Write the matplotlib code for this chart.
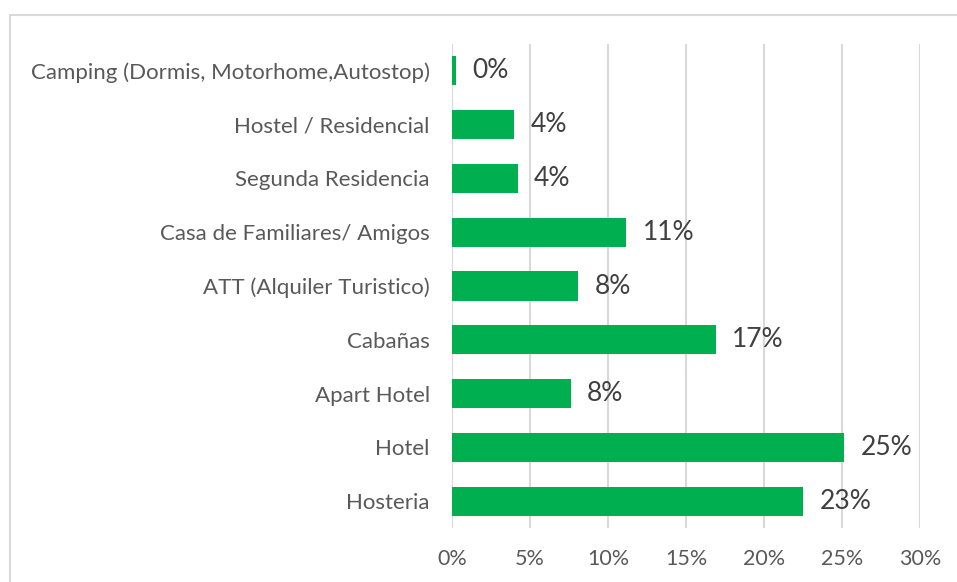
import numpy as np
import matplotlib.pyplot as plt
from matplotlib.patches import Rectangle

plt.rcParams['font.family'] = ['Lato', 'DejaVu Sans']

categorias = ['Hosteria', 'Hotel', 'Apart Hotel', 'Cabañas', 'ATT (Alquiler Turistico)',
              'Casa de Familiares/ Amigos', 'Segunda Residencia', 'Hostel / Residencial',
              'Camping (Dormis, Motorhome,Autostop)']
porcentajes = [22.5, 25.15, 7.6, 16.9, 8.1, 11.15, 4.2, 3.95, 0.25]
etiquetas = ['23%', '25%', '8%', '17%', '8%', '11%', '4%', '4%', '0%']
ticks = [0, 5, 10, 15, 20, 25, 30]

fig = plt.figure(figsize=(9.57, 5.82), dpi=100)
ax = fig.add_axes([452/957, 1-528/582, (920-452)/957, (528-44)/582])

y = np.arange(len(categorias))
ax.barh(y, porcentajes, height=0.54, color='#00B050', zorder=3)
for yi, v, t in zip(y, porcentajes, etiquetas):
    ax.annotate(t, (v, yi), xytext=(12, 0), textcoords='offset points',
                va='center', ha='left', fontsize=19, color='#404040')

ax.set_xlim(0, 30)
ax.set_ylim(-0.5, len(categorias)-0.5)
ax.set_xticks(ticks)
ax.set_xticklabels([f'{t}%' for t in ticks], fontsize=15.5, color='#595959')
ax.set_yticks(y)
ax.set_yticklabels(categorias, fontsize=16, color='#595959')
ax.tick_params(length=0, pad=15, axis='x')
ax.tick_params(length=0, pad=16, axis='y')
ax.grid(axis='x', color='#D9D9D9', linewidth=1.5, zorder=0)
for s in ax.spines.values():
    s.set_visible(False)

fig.patches.append(Rectangle((10/957, -0.1), 1.1, 0.974+0.1, transform=fig.transFigure,
                             fill=False, edgecolor='#D9D9D9', linewidth=1.5))

fig.savefig('out.png', dpi=100)
